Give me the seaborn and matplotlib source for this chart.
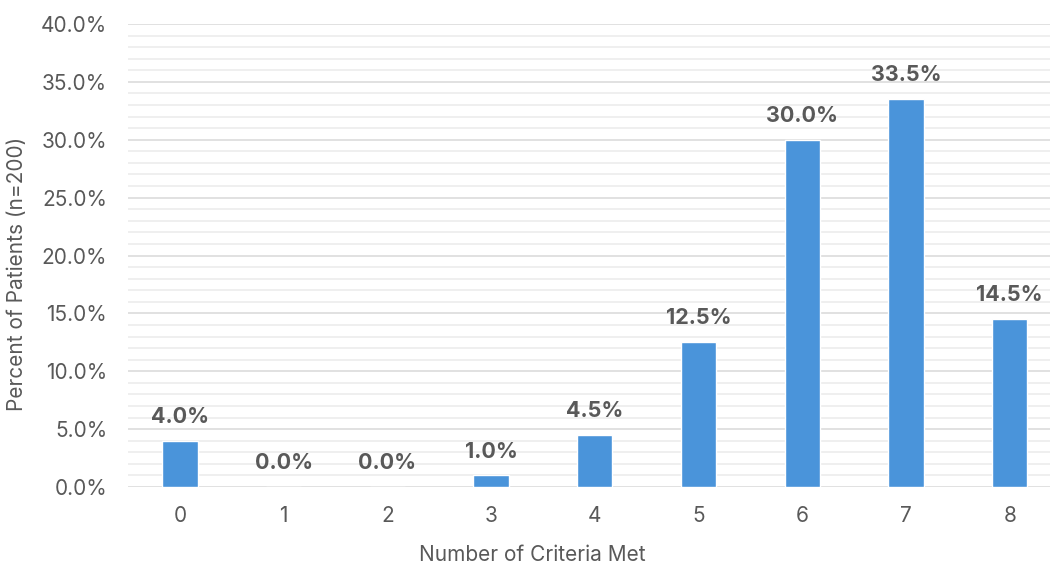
import matplotlib
matplotlib.use("Agg")
import matplotlib.pyplot as plt
import seaborn as sns
import pandas as pd
from matplotlib.ticker import MultipleLocator, PercentFormatter

criteria = ["0", "1", "2", "3", "4", "5", "6", "7", "8"]
percent = [4.0, 0.0, 0.0, 1.0, 4.5, 12.5, 30.0, 33.5, 14.5]

df = pd.DataFrame({"criteria": criteria, "percent": percent})

sns.set_theme(style="white")
plt.rcParams["font.family"] = ["Inter", "DejaVu Sans"]

text_gray = "#595959"
bar_color = "#4A94DA"
fs = 15

fig = plt.figure(figsize=(10.5, 5.65), dpi=100)
ax = fig.add_axes([0.122, 0.138, 0.889, 0.8195])

sns.barplot(data=df, x="criteria", y="percent", color=bar_color,
            width=0.34, saturation=1, ax=ax, zorder=3)

ax.set_ylim(0, 40)
ax.set_xlim(-0.5, len(criteria) - 0.5)
ax.yaxis.set_major_locator(MultipleLocator(5))
ax.yaxis.set_minor_locator(MultipleLocator(1))
ax.yaxis.set_major_formatter(PercentFormatter(decimals=1))
ax.grid(which="major", axis="y", color="#D9D9D9", linewidth=1.1, zorder=0)
ax.grid(which="minor", axis="y", color="#EBEBEB", linewidth=1.1, zorder=0)
ax.grid(axis="x", visible=False)
for s in ax.spines.values():
    s.set_visible(False)

ax.tick_params(axis="both", which="both", length=0, labelsize=fs,
               labelcolor=text_gray)
ax.tick_params(axis="y", pad=15)
ax.tick_params(axis="x", pad=14)

for i, v in enumerate(percent):
    ax.annotate(f"{v:.1f}%", xy=(i, v), xytext=(0, 10), textcoords="offset points",
                ha="center", va="bottom", fontsize=15.5, fontweight="bold",
                color=text_gray)

ax.set_xlabel("Number of Criteria Met", fontsize=fs, color=text_gray)
ax.set_ylabel("Percent of Patients (n=200)", fontsize=fs, color=text_gray)
ax.xaxis.set_label_coords(0.4325, -0.125)
ax.yaxis.set_label_coords(-0.108, 0.46)

fig.savefig("out.png", dpi=100)
